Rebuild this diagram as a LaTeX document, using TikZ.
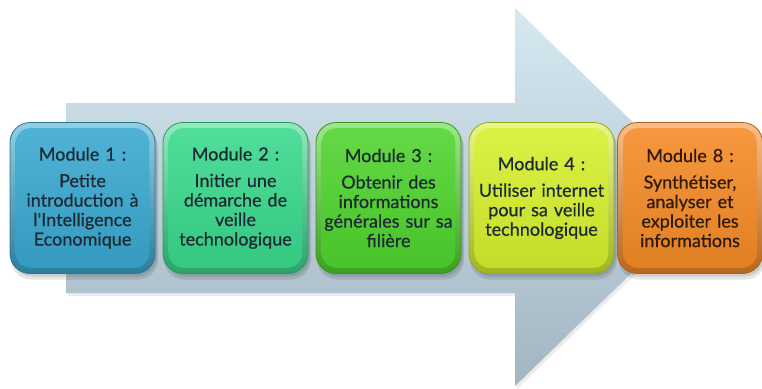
\documentclass[tikz,border=0pt]{standalone}
\usepackage{fontspec}
\setmainfont{Lato}
\newfontfamily\modfont[FakeBold=0.6]{Lato}
\usetikzlibrary{positioning}
\definecolor{cA}{HTML}{38A8D0}
\definecolor{cB}{HTML}{38D98C}
\definecolor{cC}{HTML}{4ED42C}
\definecolor{cD}{HTML}{D6F02C}
\definecolor{cE}{HTML}{F58A26}
\definecolor{txt}{HTML}{1E2A33}
\definecolor{txtE}{HTML}{2E1B0C}
\definecolor{arrTop}{HTML}{D6E9F1}
\definecolor{arrBot}{HTML}{A3B5C1}
\tikzset{
  modbox/.style={rounded corners=20pt, minimum width=145pt, minimum height=151pt,
    inner sep=0pt, draw=#1!70!black, line width=0.8pt,
    top color=#1!55!white, bottom color=#1!75!black},
  modinner/.style={rounded corners=15pt, top color=#1!88!white, bottom color=#1!92!black},
  modtext/.style={text width=143pt, align=center, font=\modfont\fontsize{18}{19.5}\selectfont},
  shadowbox/.style={rounded corners=20pt, fill=black, fill opacity=0.10},
}
\newcommand{\modulebox}[5]{%
  % #1 name, #2 x-center, #3 colour, #4 text colour, #5 text
  \fill[shadowbox] (#2-72.5+1,198-75.5+5) rectangle (#2+72.5+3,198+75.5+6);
  \fill[shadowbox] (#2-72.5+2,198-75.5+3) rectangle (#2+72.5+2,198+75.5+3);
  \node[modbox=#3] (#1) at (#2,198) {};
  \shade[modinner=#3] ([shift={(6pt,-6pt)}]#1.north west) rectangle ([shift={(-6pt,6pt)}]#1.south east);
  \node[modtext, text=#4] (#1t) at (#1.center) {#5};
}
\begin{document}
\begin{tikzpicture}[x=1pt,y=-1pt]
\useasboundingbox (0,0) rectangle (762,388);
% big background arrow
\fill[black, opacity=0.08] (68,106) -- (517,106) -- (517,11) -- (712,200) -- (517,389) -- (517,296) -- (68,296) -- cycle;
\shade[top color=arrTop, bottom color=arrBot]
  (66,103) -- (515,103) -- (515,8) -- (710,197) -- (515,386) -- (515,293) -- (66,293) -- cycle;
\modulebox{m1}{82.5}{cA}{txt}{Module 1 :\\[7pt]Petite\\introduction à\\l'Intelligence\\Economique}
\modulebox{m2}{235.5}{cB}{txt}{Module 2 :\\[7pt]Initier une\\démarche de\\veille\\technologique}
\modulebox{m3}{388.5}{cC}{txt}{Module 3 :\\[7pt]Obtenir des\\informations\\générales sur sa\\filière}
\modulebox{m4}{541.5}{cD}{txt}{Module 4 :\\[7pt]Utiliser internet\\pour sa veille\\technologique}
\modulebox{m5}{690}{cE}{txtE}{Module 8 :\\[7pt]Synthétiser,\\analyser et\\exploiter les\\informations}
\end{tikzpicture}
\end{document}
